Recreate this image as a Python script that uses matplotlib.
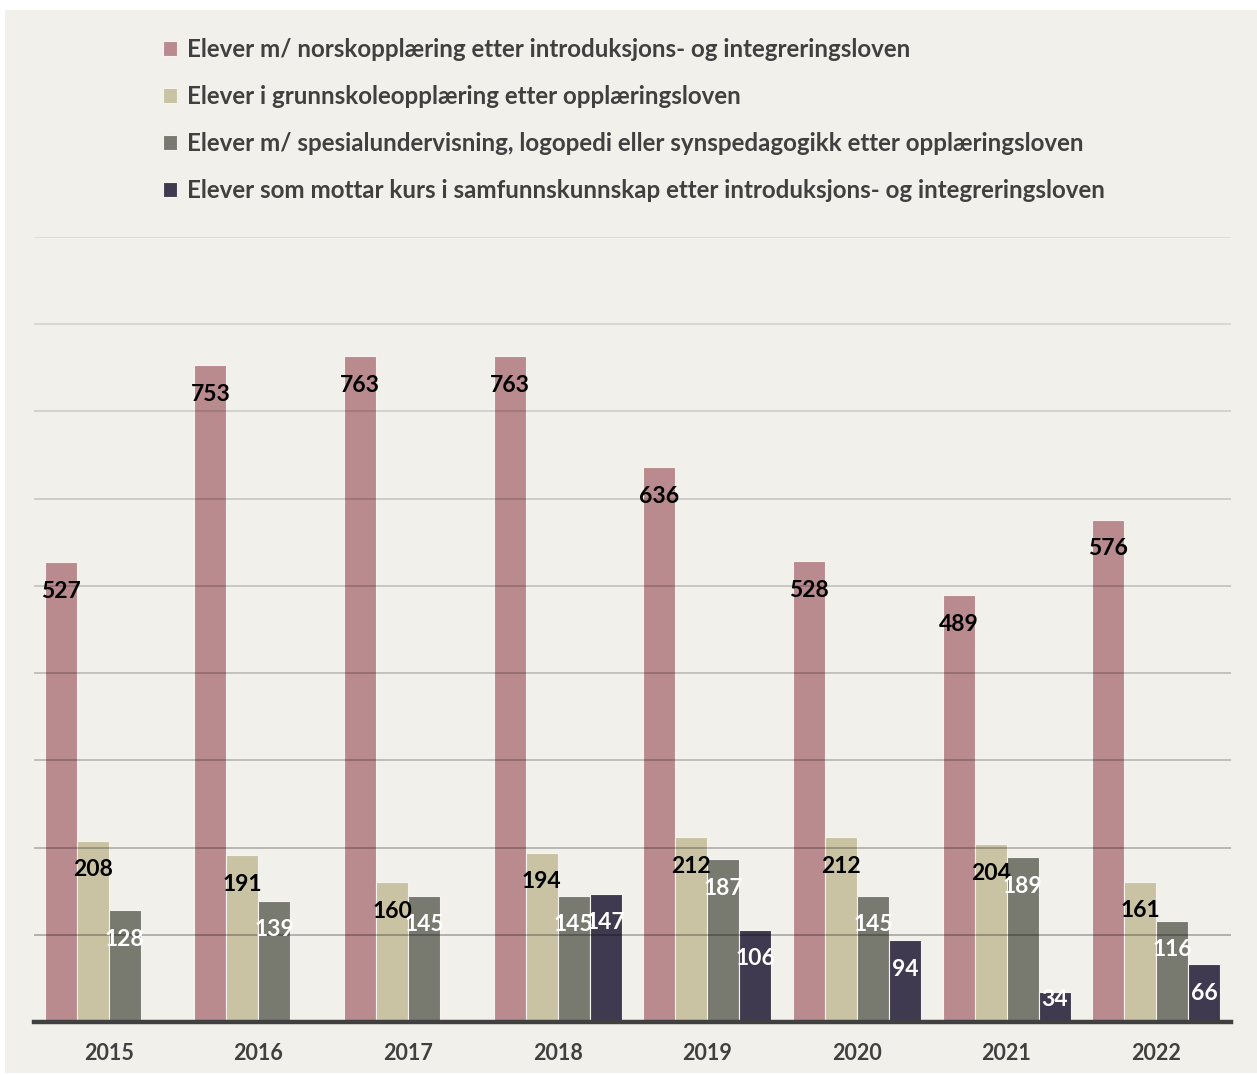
import numpy as np
import matplotlib
matplotlib.use("Agg")
import matplotlib.pyplot as plt
from matplotlib.patches import Rectangle

years = ["2015", "2016", "2017", "2018", "2019", "2020", "2021", "2022"]
series_names = [
    "Elever m/ norskopplæring etter introduksjons- og integreringsloven",
    "Elever i grunnskoleopplæring etter opplæringsloven",
    "Elever m/ spesialundervisning, logopedi eller synspedagogikk etter opplæringsloven",
    "Elever som mottar kurs i samfunnskunnskap etter introduksjons- og integreringsloven",
]
norsk = [527, 753, 763, 763, 636, 528, 489, 576]
grunnskole = [208, 191, 160, 194, 212, 212, 204, 161]
spesial = [128, 139, 145, 145, 187, 145, 189, 116]
samfunn = [np.nan, np.nan, np.nan, 147, 106, 94, 34, 66]
series = [norsk, grunnskole, spesial, samfunn]

colors = ["#b98a8e", "#c9c3a3", "#78796f", "#3f3a4f"]
label_colors = ["black", "black", "white", "white"]
bg = "#f1f0eb"
FONT = "Lato"

W, H = 1257, 1075
fig = plt.figure(figsize=(W / 100, H / 100), dpi=100)
fig.patch.set_facecolor("white")
fig.add_artist(Rectangle((5 / W, 2 / H), 1 - 5 / W, (1065 - 2) / H,
                         transform=fig.transFigure, facecolor=bg,
                         edgecolor="none", zorder=0))

ax_l, ax_r, ax_b, ax_t = 34, 1231, 1022, 237
ax = fig.add_axes([ax_l / W, (H - ax_b) / H, (ax_r - ax_l) / W, (ax_b - ax_t) / H])
ax.set_facecolor("none")

x = np.arange(len(years))
bw = 0.2138
offsets = [-1.5, -0.5, 0.5, 1.5]
ymax = 900
ax.set_ylim(0, ymax)
ax.set_xlim(-0.5, len(years) - 0.5)

units_per_px = ymax / (ax_b - ax_t)
min_anchor = 52 * units_per_px

for i, (vals, name) in enumerate(zip(series, series_names)):
    xs = x + offsets[i] * bw
    ax.bar(xs, vals, width=bw, color=colors[i], edgecolor="#f6f2ef",
           linewidth=0.8, label=name, zorder=2)
    for xi, v in zip(xs, vals):
        if np.isnan(v):
            continue
        ax.annotate(f"{int(v)}", xy=(xi, max(v, min_anchor)), xytext=(0, -21),
                    textcoords="offset points", ha="center", va="center",
                    fontsize=16.5, fontweight="bold", color=label_colors[i],
                    family=FONT, zorder=5)

# gridlines with gradient (light at top, darker at bottom), drawn over bars
grid_levels = np.arange(100, ymax + 1, 100)
for g in grid_levels:
    frac = (g - 100) / (ymax - 100)
    alpha = 0.33 - 0.23 * frac
    ax.axhline(g, color="black", alpha=alpha, lw=1.1, zorder=3)

for s in ["top", "right", "left"]:
    ax.spines[s].set_visible(False)
ax.spines["bottom"].set_linewidth(3.2)
ax.spines["bottom"].set_color("#404040")
ax.spines["bottom"].set_zorder(4)
ax.set_yticks([])
ax.set_xticks(x)
ax.set_xticklabels(years, fontsize=15.5, fontweight="bold", color="#404040", family=FONT)
ax.tick_params(axis="x", length=0, pad=15)

leg = fig.legend(loc="upper left", bbox_to_anchor=(141 / W, 1 - 16 / H),
                 frameon=False, ncol=1, handlelength=0.6, handleheight=0.6,
                 handletextpad=0.4, labelspacing=1.0,
                 prop={"family": FONT, "weight": "bold", "size": 17.4})
for t in leg.get_texts():
    t.set_color("#404040")

fig.savefig("out.png", dpi=100, facecolor=fig.get_facecolor())
